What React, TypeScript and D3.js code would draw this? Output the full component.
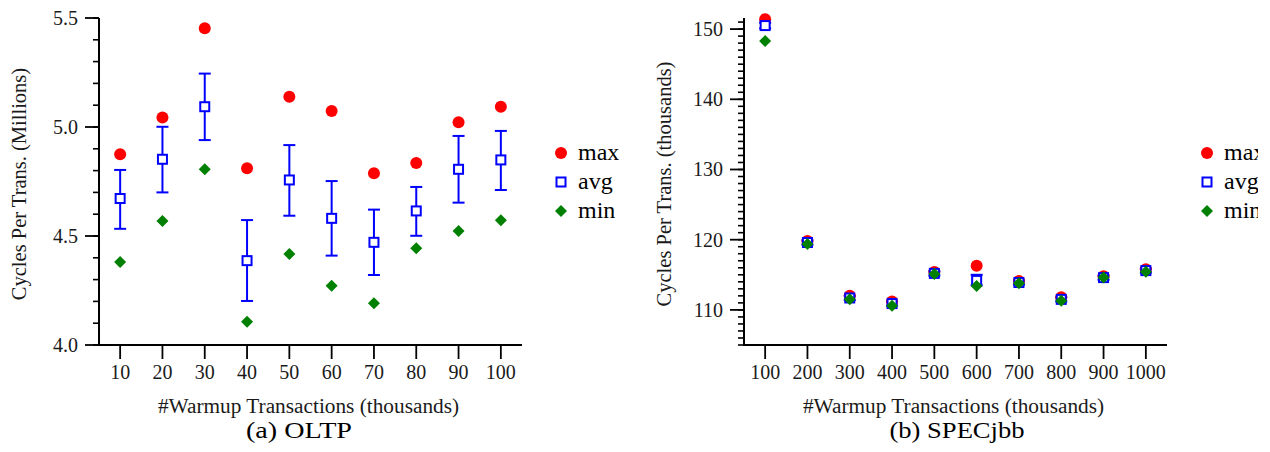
import React from "react";
import * as d3 from "d3";

// ---- Data: (a) OLTP ----
const oltpX = [10, 20, 30, 40, 50, 60, 70, 80, 90, 100];
const oltpMax = [4.875, 5.044, 5.453, 4.811, 5.139, 5.073, 4.788, 4.835, 5.022, 5.093];
const oltpAvg = [4.672, 4.852, 5.093, 4.387, 4.757, 4.581, 4.471, 4.615, 4.806, 4.849];
const oltpErrHi = [4.803, 5.001, 5.245, 4.573, 4.917, 4.752, 4.621, 4.725, 4.959, 4.982];
const oltpErrLo = [4.533, 4.700, 4.940, 4.202, 4.593, 4.410, 4.321, 4.501, 4.653, 4.711];
const oltpMin = [4.381, 4.569, 4.806, 4.107, 4.417, 4.272, 4.191, 4.444, 4.523, 4.572];
const oltpYTicks = [4.0, 4.5, 5.0, 5.5];

// ---- Data: (b) SPECjbb ----
const jbbX = [100, 200, 300, 400, 500, 600, 700, 800, 900, 1000];
const jbbMax = [151.4, 119.8, 112.0, 111.2, 115.4, 116.3, 114.1, 111.8, 114.8, 115.8];
const jbbAvg = [150.5, 119.6, 111.7, 110.9, 115.2, 114.2, 113.9, 111.5, 114.6, 115.6];
const jbbErrHi = [150.9, 119.9, 112.0, 111.2, 115.5, 115.0, 114.2, 111.8, 114.9, 115.9];
const jbbErrLo = [150.1, 119.3, 111.4, 110.6, 114.9, 113.5, 113.6, 111.2, 114.3, 115.3];
const jbbMin = [148.3, 119.4, 111.5, 110.6, 115.1, 113.4, 113.8, 111.3, 114.6, 115.45];
const jbbYTicks = [110, 120, 130, 140, 150];

const legendNames = ["max", "avg", "min"];

const FONT = "'Liberation Serif', 'Times New Roman', serif";
const RED = "#ff0000";
const BLUE = "#0000ff";
const GREEN = "#008000";

type PanelProps = {
  left: number;
  right: number;
  top: number;
  bottom: number;
  xDomain: [number, number];
  yDomain: [number, number];
  xs: number[];
  maxV: number[];
  avgV: number[];
  hiV: number[];
  loV: number[];
  minV: number[];
  yTicks: number[];
  minorStep: number;
  minorStart: number;
  yFmt: (v: number) => string;
  yLabel: string;
  yLabelX: number;
  xLabel: string;
  caption: string;
  captionX: number;
  captionW: number;
  legendX: number;
};

function Panel(p: PanelProps) {
  const x = d3.scaleLinear().domain(p.xDomain).range([p.left, p.right]);
  const y = d3.scaleLinear().domain(p.yDomain).range([p.bottom, p.top]);
  const minors = d3.range(p.minorStart, p.yDomain[1] + 1e-9, p.minorStep);
  const midX = (p.left + p.right) / 2;
  const midY = 184;
  const s = 4.5;
  const diamond = (cx: number, cy: number, r: number) =>
    `M${cx},${cy - r}L${cx + r},${cy}L${cx},${cy + r}L${cx - r},${cy}Z`;
  return (
    <g fontFamily={FONT} fill="#1a1a1a">
      {/* axes */}
      <line x1={p.left} x2={p.left} y1={y(p.yDomain[1])} y2={p.bottom + 1} stroke="#000" strokeWidth={2} />
      <line x1={p.left - 1} x2={p.right} y1={p.bottom} y2={p.bottom} stroke="#000" strokeWidth={2} />
      {minors.map((v, i) => (
        <line key={"mn" + i} x1={p.left - 6} x2={p.left} y1={y(v)} y2={y(v)} stroke="#000" strokeWidth={1.6} />
      ))}
      {p.yTicks.map((v) => (
        <g key={"yt" + v}>
          <line x1={p.left - 14} x2={p.left} y1={y(v)} y2={y(v)} stroke="#000" strokeWidth={1.8} />
          <text x={p.left - 21} y={y(v)} dy="0.35em" textAnchor="end" fontSize={20}>
            {p.yFmt(v)}
          </text>
        </g>
      ))}
      {p.xs.map((v) => (
        <g key={"xt" + v}>
          <line x1={x(v)} x2={x(v)} y1={p.bottom} y2={p.bottom + 14} stroke="#000" strokeWidth={1.8} />
          <text x={x(v)} y={p.bottom + 34} textAnchor="middle" fontSize={20}>
            {v}
          </text>
        </g>
      ))}
      <text
        transform={`translate(${p.yLabelX},${midY}) rotate(-90)`}
        textAnchor="middle"
        fontSize={20.5}
        dy="0.3em"
      >
        {p.yLabel}
      </text>
      <text x={midX - 2} y={p.bottom + 68} textAnchor="middle" fontSize={21.3}>
        {p.xLabel}
      </text>
      <text
        x={p.captionX}
        y={p.bottom + 93}
        textAnchor="middle"
        fontSize={24}
        fill="#000"
        textLength={p.captionW}
        lengthAdjust="spacingAndGlyphs"
      >
        {p.caption}
      </text>
      {/* error bars */}
      {p.xs.map((v, i) => (
        <g key={"eb" + v} stroke={BLUE} strokeWidth={2}>
          <line x1={x(v)} x2={x(v)} y1={y(p.hiV[i])} y2={y(p.loV[i])} />
          <line x1={x(v) - 6} x2={x(v) + 6} y1={y(p.hiV[i])} y2={y(p.hiV[i])} />
          <line x1={x(v) - 6} x2={x(v) + 6} y1={y(p.loV[i])} y2={y(p.loV[i])} />
        </g>
      ))}
      {p.xs.map((v, i) => (
        <circle key={"mx" + v} cx={x(v)} cy={y(p.maxV[i])} r={6} fill={RED} />
      ))}
      {p.xs.map((v, i) => (
        <rect
          key={"av" + v}
          x={x(v) - s}
          y={y(p.avgV[i]) - s}
          width={2 * s}
          height={2 * s}
          fill="#fff"
          stroke={BLUE}
          strokeWidth={2}
        />
      ))}
      {p.xs.map((v, i) => (
        <path key={"mi" + v} d={diamond(x(v), y(p.minV[i]), 6)} fill={GREEN} />
      ))}
      {/* legend */}
      <circle cx={p.legendX} cy={153} r={6} fill={RED} />
      <rect x={p.legendX - s} y={182 - s} width={2 * s} height={2 * s} fill="#fff" stroke={BLUE} strokeWidth={2} />
      <path d={diamond(p.legendX, 211, 6)} fill={GREEN} />
      {legendNames.map((n, i) => (
        <text key={n} x={p.legendX + 17} y={153 + i * 29} dy="0.3em" fontSize={24} fill="#000">
          {n}
        </text>
      ))}
    </g>
  );
}

export default function App() {
  return (
    <svg
      width={1270}
      height={452}
      style={{ position: "absolute", left: 0, top: 0, background: "#fff" }}
    >
      <defs>
        <clipPath id="clipAll">
          <rect x={0} y={0} width={1258} height={452} />
        </clipPath>
      </defs>
      <rect width={1270} height={452} fill="#fff" />
      <g clipPath="url(#clipAll)">
        <Panel
          left={99}
          right={522}
          top={18}
          bottom={345}
          xDomain={[5, 105]}
          yDomain={[4.0, 5.5]}
          xs={oltpX}
          maxV={oltpMax}
          avgV={oltpAvg}
          hiV={oltpErrHi}
          loV={oltpErrLo}
          minV={oltpMin}
          yTicks={oltpYTicks}
          minorStep={0.1}
          minorStart={4.0}
          yFmt={d3.format(".1f")}
          yLabel="Cycles Per Trans. (Millions)"
          yLabelX={20}
          xLabel="#Warmup Transactions (thousands)"
          caption="(a) OLTP"
          captionX={299}
          captionW={106}
          legendX={561}
        />
        <Panel
          left={744}
          right={1167}
          top={18}
          bottom={345}
          xDomain={[50, 1050]}
          yDomain={[105, 151.58]}
          xs={jbbX}
          maxV={jbbMax}
          avgV={jbbAvg}
          hiV={jbbErrHi}
          loV={jbbErrLo}
          minV={jbbMin}
          yTicks={jbbYTicks}
          minorStep={1}
          minorStart={105}
          yFmt={d3.format("d")}
          yLabel="Cycles Per Trans. (thousands)"
          yLabelX={665}
          xLabel="#Warmup Transactions (thousands)"
          caption="(b) SPECjbb"
          captionX={957}
          captionW={135}
          legendX={1207}
        />
      </g>
    </svg>
  );
}
